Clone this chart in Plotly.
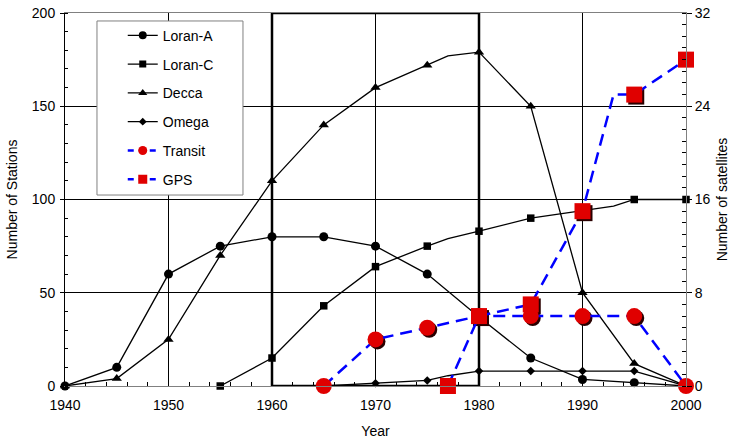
import plotly.graph_objects as go

# ---------------- data ----------------
loran_a_years = [1940, 1945, 1950, 1955, 1960, 1965, 1970, 1975, 1980, 1985, 1990, 1995, 2000]
loran_a_vals = [0, 10, 60, 75, 80, 80, 75, 60, 37, 15, 3.5, 1.8, 0]

loran_c_years = [1955, 1960, 1965, 1970, 1975, 1977, 1980, 1985, 1990, 1993, 1995, 2000]
loran_c_vals = [0, 15, 43, 64, 75, 79, 83, 90, 94, 96.5, 100, 100]
loran_c_marked = [1, 1, 1, 1, 1, 0, 1, 1, 1, 0, 1, 1]

decca_years = [1940, 1945, 1950, 1955, 1960, 1965, 1970, 1975, 1977, 1980, 1985, 1990, 1995, 2000]
decca_vals = [0, 4, 25, 70, 110, 140, 160, 172, 177, 179, 150, 50, 12, 0]
decca_marked = [1, 1, 1, 1, 1, 1, 1, 1, 0, 1, 1, 1, 1, 1]

omega_years = [1965, 1970, 1975, 1977, 1980, 1985, 1990, 1995, 2000]
omega_vals = [0, 1.5, 3, 5.5, 8, 8, 8, 8, 0]
omega_marked = [1, 1, 1, 0, 1, 1, 1, 1, 1]

transit_years = [1965, 1970, 1975, 1980, 1985, 1990, 1995, 2000]
transit_vals = [0, 4, 5, 6, 6, 6, 6, 0]

gps_years = [1977, 1980, 1985, 1990, 1993, 1995, 2000]
gps_vals = [0, 6, 7, 15, 25, 25, 28]
gps_marked = [1, 1, 1, 1, 0, 1, 1]

x_range = [1940, 2000]
stations_range = [0, 200]
sats_range = [0, 32]
box_years = [1960, 1980]

FONT = "Liberation Sans, Arial, sans-serif"
RED = "#e00000"
BLUE = "#0000ff"
SHADOW = "#2a0000"

fig = go.Figure()


def sizes(marked, s):
    return [s if m else 0 for m in marked]


def mk(sym, size, color):
    return dict(symbol=sym, size=size, color=color, opacity=1, line=dict(width=0))


# black series (stations, left axis)
black_series = [
    ("Loran-A", loran_a_years, loran_a_vals, [1] * len(loran_a_years), "circle", 9),
    ("Loran-C", loran_c_years, loran_c_vals, loran_c_marked, "square", 7.5),
    ("Decca", decca_years, decca_vals, decca_marked, "triangle-up", 9),
    ("Omega", omega_years, omega_vals, omega_marked, "diamond", 6.5),
]
for name, xs, ys, marked, sym, s in black_series:
    fig.add_trace(go.Scatter(
        x=xs, y=ys, mode="lines+markers", name=name, showlegend=False,
        line=dict(color="black", width=1.3),
        marker=mk(sym, sizes(marked, s), "black"),
        cliponaxis=False, xaxis="x", yaxis="y"))

# shadows of red markers (offset hidden axes)
fig.add_trace(go.Scatter(
    x=transit_years, y=transit_vals, mode="markers", showlegend=False,
    marker=mk("circle", 16, SHADOW),
    cliponaxis=False, xaxis="x2", yaxis="y3"))
fig.add_trace(go.Scatter(
    x=gps_years, y=gps_vals, mode="markers", showlegend=False,
    marker=mk("square", sizes(gps_marked, 16), SHADOW),
    cliponaxis=False, xaxis="x2", yaxis="y3"))

# satellite series (hidden axes identical to the right axis, drawn on top)
fig.add_trace(go.Scatter(
    x=transit_years, y=transit_vals, mode="lines+markers", name="Transit", showlegend=False,
    line=dict(color=BLUE, width=2.5, dash="12px,7px"),
    marker=mk("circle", 16, RED),
    cliponaxis=False, xaxis="x3", yaxis="y4"))
fig.add_trace(go.Scatter(
    x=gps_years, y=gps_vals, mode="lines+markers", name="GPS", showlegend=False,
    line=dict(color=BLUE, width=2.5, dash="12px,7px"),
    marker=mk("square", sizes(gps_marked, 16), RED),
    cliponaxis=False, xaxis="x3", yaxis="y4"))

# an invisible trace so the right axis is active
fig.add_trace(go.Scatter(x=[None], y=[None], mode="lines", showlegend=False,
                         hoverinfo="skip", xaxis="x", yaxis="y2"))

# legend-only entries
legend_entries = [
    ("Loran-A", "circle", "black", "black", "solid", 1.3, 8),
    ("Loran-C", "square", "black", "black", "solid", 1.3, 7),
    ("Decca", "triangle-up", "black", "black", "solid", 1.3, 8),
    ("Omega", "diamond", "black", "black", "solid", 1.3, 6),
    ("Transit", "circle", RED, BLUE, "6px,5px", 2.5, 9),
    ("GPS", "square", RED, BLUE, "6px,5px", 2.5, 9),
]
for name, sym, mc, lc, dash, lw, s in legend_entries:
    fig.add_trace(go.Scatter(
        x=[None], y=[None], mode="lines+markers", name=name, legendgroup=name,
        line=dict(color=lc, width=lw, dash=dash),
        marker=mk(sym, s, mc),
        xaxis="x", yaxis="y"))

# offsets for shadow axes (about 2 px right / down)
plot_w = 621.0
plot_h = 373.0
dx = 2.0 * (x_range[1] - x_range[0]) / plot_w
dy = 2.0 * (sats_range[1] - sats_range[0]) / plot_h

tickfont = dict(family=FONT, size=14, color="black")
titlefont = dict(family=FONT, size=14, color="black")

fig.update_layout(
    width=730, height=439,
    margin=dict(l=65, r=44, t=13, b=53, autoexpand=False),
    paper_bgcolor="white", plot_bgcolor="white",
    font=dict(family=FONT, size=14, color="black"),
    showlegend=True,
    legend=dict(
        x=0.093, y=0.982, xanchor="left", yanchor="top",
        bgcolor="rgba(0,0,0,0)", borderwidth=0,
        font=dict(family=FONT, size=14, color="black"),
        tracegroupgap=7.6, itemclick=False,
    ),
    xaxis=dict(
        range=x_range, tick0=1940, dtick=10, tickfont=tickfont, automargin=False,
        showgrid=True, gridcolor="black", gridwidth=1,
        ticks="", showline=True, linecolor="#808080", linewidth=1, mirror=True,
        zeroline=False, ticklabelstandoff=6,
        minor=dict(dtick=2, ticks="inside", ticklen=4, tickcolor="black", showgrid=False),
        title=dict(text="Year", font=titlefont, standoff=20),
    ),
    yaxis=dict(
        range=stations_range, dtick=50, tickfont=tickfont, automargin=False,
        showgrid=True, gridcolor="black", gridwidth=1,
        ticks="outside", ticklen=4, tickcolor="black", ticklabelstandoff=2,
        showline=True, linecolor="black", linewidth=1, zeroline=False,
        minor=dict(dtick=10, ticks="inside", ticklen=3, tickcolor="black", showgrid=False),
        title=dict(text="Number of Stations", font=titlefont, standoff=10),
    ),
    yaxis2=dict(
        range=sats_range, dtick=8, overlaying="y", side="right", anchor="x",
        tickfont=tickfont, showgrid=False, automargin=False,
        ticks="outside", ticklen=5, tickcolor="black",
        showline=True, linecolor="#808080", linewidth=1, zeroline=False,
        minor=dict(dtick=1, ticks="inside", ticklen=4, tickcolor="black", showgrid=False),
        title=dict(text="Number of satellites", font=titlefont, standoff=10),
    ),
    xaxis2=dict(range=[x_range[0] - dx, x_range[1] - dx], overlaying="x", visible=False,
                anchor="y3", automargin=False),
    yaxis3=dict(range=[sats_range[0] + dy, sats_range[1] + dy], overlaying="y", visible=False,
                anchor="x2", automargin=False),
    xaxis3=dict(range=x_range, overlaying="x", visible=False, anchor="y4", automargin=False),
    yaxis4=dict(range=sats_range, overlaying="y", visible=False, anchor="x3", automargin=False),
    shapes=[
        dict(type="rect", xref="x", yref="y", x0=box_years[0], x1=box_years[1],
             y0=stations_range[0], y1=stations_range[1],
             line=dict(color="black", width=2.5), layer="below"),
        dict(type="rect", xref="paper", yref="paper", x0=0.0515, x1=0.2866, y0=0.512, y1=0.9786,
             line=dict(color="#808080", width=1), fillcolor="white", layer="above"),
    ],
)

fig.write_html("out.html",
               config={"displayModeBar": False},
               post_script="document.body.style.margin='0';document.body.style.padding='0';")
